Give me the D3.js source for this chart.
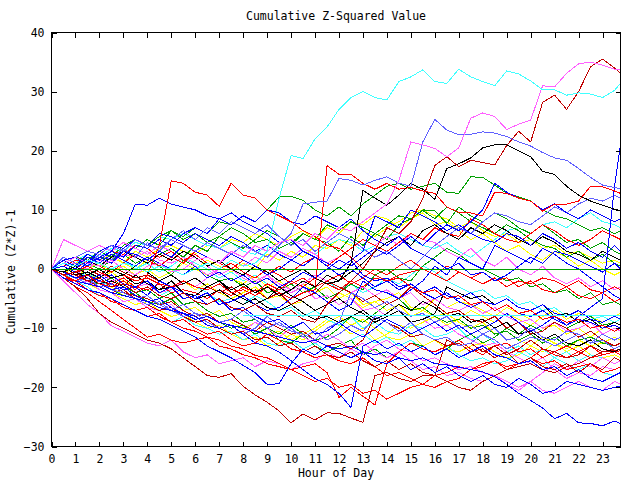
<!DOCTYPE html>
<html><head><meta charset="utf-8">
<script src="https://cdn.jsdelivr.net/npm/d3@7"></script>
<style>
body{margin:0;background:#fff}
svg{display:block}
text{font-family:"DejaVu Sans Mono",monospace;font-size:11.5px;fill:#000}
</style>
</head><body>
<svg id="chart" width="640" height="480"></svg>
<script>
// ---- data ----
const title = "Cumulative Z-Squared Value";
const xTitle = "Hour of Day";
const yTitle = "Cumulative (Z*Z)-1";
const hourTicks = [0,1,2,3,4,5,6,7,8,9,10,11,12,13,14,15,16,17,18,19,20,21,22,23];
const valueTicks = [-30,-20,-10,0,10,20,30,40];
const sampleHours = [0,0.5,1,1.5, 2,2.5,3,3.5, 4,4.5,5,5.5, 6,6.5,7,7.5, 8,8.5,9,9.5, 10,10.5,11,11.5,
  12,12.5,13,13.5, 14,14.5,15,15.5, 16,16.5,17,17.5, 18,18.5,19,19.5, 20,20.5,21,21.5, 22,22.5,23,23.5, 23.75];

const cyanRiser = [0,1,0.5,1.5, 1,0,1,0.5, -0.5,0.5,0,-1, 0,1,0,1.5, 0.5,1,3,12, 19.2,18.7,22,24,
  27,29,30,29, 28.6,31.7,32.5,33.7, 31.7,31.4,33.8,32.5, 31.7,31,33.5,33, 31.8,30.3,30.3,29.4, 29.8,29.6,29,30.2, 31.4];
const magentaRiser = [0,1,2,1, 0.5,1.5,0,-1, 0.5,1,-0.5,0, 1.5,2,1,3, 2,4,3,4.5, 5,4,6,5,
  7,6.5,8,9.5, 11,15,21.5,21, 20.4,19,20.5,25.5, 26.4,25.8,23.6,24.5, 25.2,31,30.8,33.1, 34.7,35,34.5,33.8, 33.7];
const darkRedRiser = [0,-1,-0.5,-2, -1.5,-3,-2.5,-4, -3,-4.5,-5,-4, -5.5,-6,-5,-6.5, -7,-6,-7.5,-8, -7,-8.5,-9,-6,
  -4,-2,0,3, 7,6,8,12, 17.5,19,17.3,18.4, 18,17.6,20.9,23.3, 21.5,28.2,29.4,27, 30,34.2,35.5,34, 33.1];
const lightBlueHigh = [0,1,2,3, 2.5,4,3,5, 4,3.5,5,4, 3,4.5,3.5,2.5, 4,3,2,4, 6,11,11.3,11.5,
  15.3,15,14.2,15, 15.6,14.5,14,21.5, 25.3,23.5,22.7,22.8, 23.2,23,22.4,21.5, 20.8,19.7,18.8,18.4, 17,15.5,14.2,13.8, 13.6];
const blackHigh = [0,-0.5,0.5,-1, 0,-1.5,-1,0.5, -0.5,-2,-1,-2.5, -1.5,-3,-2,-3.5, -2.5,-4,-3,-4.5, -3.5,-2,-3,-1,
  -2,1,13.3,12, 10.8,12.5,14.5,13.5, 11.8,17,17.8,18.8, 20.5,21,21,20, 19,16.5,16,14, 12.5,11.5,10.8,10.1, 9.9];
const redJump11 = [0,-1,-0.5,0.5, -0.5,-1.5,-1,-2, -1.5,-2.5,-3,-2, -3,-3.5,-2.5,-4, -3.5,-4.5,-3,-4, -5,-4,-3.5,17.5,
  16,16,14.5,13.5, 14.5,13.5,13.8,13.2, 12.8,10.5,9.6,9.5, 9,13,12.8,12, 11.5,9.8,11,11, 11.5,14,13.9,13.2, 12.8];
const redJump5 = [0,-1,-2,-1, -2.5,-3,-2,-3.5, -1,4,14.9,14.5, 13,12.5,10.6,14.5, 12.5,12,10,9, 8,6.5,5.5,4,
  3.5,2,0,-1, -2,-1.5,-3,-4, -3.5,-5,-4.5,-6, -5.5,-7,-6,-7.5, -7,-8.5,-8,-9, -8.5,-10,-9.5,-10.5, -10];
const blueEarlyPeak = [0,1,2,0.5, 2,3,6,11, 10.8,12,11,10.5, 10,9,8.5,9.5, 8,7,6,4.5, 5,3,2,1,
  0,1.5,-1,-2, -1.5,-3,-2.5,-4, -3,-4.5,-5,-4, -5.5,-6,-5,-6.5, -7,-6,-7.5,-8, -7,-8.5,-9,-8, -8.5];
const darkRedLow = [0,-1.5,-3,-5, -7.5,-9,-10,-11, -12,-12.5,-13.5,-15, -16.5,-18,-18.3,-17.7, -19.8,-21.3,-22.5,-24, -26,-24.5,-25.5,-24.3,
  -24.4,-25.2,-25.9,-18, -17.5,-18.5,-19,-18, -18,-19,-20,-20.5, -19,-18,-17,-16.5, -16,-17,-17.5,-16.5, -16,-15,-14,-13.8, -13.5];
const blueLowest = [0,-1,-2,-2.5, -3,-4,-4.5,-5, -5.5,-6.5,-7,-7.5, -8.5,-8,-9,-9.5, -10,-10.5,-11,-11.5, -12,-12.5,-12,-13,
  -13.5,-13,-14,-14.5, -14,-15,-15.5,-15, -16,-16.2,-16.6,-17, -17.4,-18.2,-19.5,-21, -22.2,-23.5,-25.3,-24.4, -26,-26.1,-26.5,-25.7, -26.1];
const blueV = [0,-1.5,-2.5,-3.5, -4,-5,-6,-7, -8,-8.5,-9.5,-10.5, -11.5,-13,-14,-15, -16.3,-17.5,-19.5,-19.4, -16,-13.5,-14.5,-13,
  -14,-15,-14,-15.5, -16,-15,-17,-16, -17.5,-16.5,-18,-19, -18,-19.5,-20,-18.5, -19.5,-21,-20.5,-19, -19.5,-20,-20.5,-20, -19.8];
const blueDip13 = [0,-0.5,-1.5,-1, -2.5,-3.5,-3,-4.5, -5.5,-5,-6.5,-7.5, -8,-9.5,-10,-9.5, -11,-12.5,-13,-14, -15.5,-17,-18.5,-19.5,
  -21,-23.4,-13,-12, -13.5,-12.5,-14,-13, -14.5,-13.5,-15,-14, -13,-14.5,-15,-16, -15.5,-17,-16.5,-18, -17,-18.5,-19,-18, -17.5];
const redDip = [0,-1,-2.5,-3.5, -4.5,-5,-6.5,-7, -8,-7.5,-9,-10, -10.5,-11.5,-12,-13, -13.5,-14.6,-15,-16, -17,-16.5,-16,-17.5,
  -21.7,-20,-21.5,-23, -16,-14,-12.5,-13.5, -14,-13,-12,-13.5, -14.5,-13,-12.5,-14, -13.5,-15,-14,-13, -14,-15,-14.5,-14, -14.5];
const magentaLow = [0,-2,-4,-6, -7.5,-9.6,-10.5,-11.5, -12.5,-13,-12,-14, -15,-14.5,-16,-15.5, -15,-16.5,-15.5,-16, -17,-16,-15.5,-14,
  -15,-13.5,-14.5,-13, -12,-13.5,-14,-15.5, -15,-16,-17,-16.5, -17.5,-18,-19,-20, -19,-20.5,-21,-20, -19,-20,-20.5,-19, -19.5];
const redLow = [0,-1.5,-3,-4, -5.5,-7,-8.5,-10, -11.5,-11,-12,-12.5, -12,-11.5,-13,-13.5, -14.5,-15,-16,-16.5, -17,-18,-19,-18.5,
  -20,-19.5,-21,-20.5, -22,-21,-20,-19.5, -18,-17.5,-16.5,-17, -16,-15.5,-16.5,-16, -15,-16,-15.5,-17, -16.5,-16,-17.5,-17, -16.5];
const greenHigh = [0,1,0.5,2, 1.5,3,4.5,3.5, 5,4,6.5,5.5, 7,6,8,7.5, 9,8,10,12.2, 12.3,11.6,10,9,
  10.5,9,11,12.5, 14,14.5,13.5,14, 14.5,13,12.8,15.6, 15.5,14.2,12.8,12.2, 11.5,10,9,8.5, 7.5,6.5,7,6, 6.5];
const greenMid = [0,-0.5,1,0.5, 2,1.5,3,2, 1,2.5,3.5,2, 4,3,5.5,4.5, 3.5,5,6.5,5.5, 4,6,5,4.5,
  3,5.5,4,6, 5,7.5,8.5,9.9, 8.5,10.5,9.5,8, 7,6,7.5,6.5, 5,4,3.5,2, 3,1.5,2.5,1, 0.5];
const greenLow = [0,-1,-0.5,-2, -2.5,-1.5,-3,-4, -3.5,-5,-4,-6, -5.5,-7,-8,-7.5, -9,-8.5,-10,-11, -9.5,-11,-12,-11.5,
  -10,-8,-9,-7.5, -6,-5,-7,-6.5, -8,-9,-8.5,-10, -9.5,-11,-10.5,-12, -11,-12.5,-11.5,-13, -12,-11.5,-12.5,-13, -12.5];
const greenFlat = [0,0.5,-0.5,1, 0,1.5,2.5,1, 2,0.5,-1,1.5, 0.5,-1,-2,-1.5, -3,-2,-4,-3.5, -2.5,-4,-3,-5,
  -4,-2.5,-3.5,-1, 0,-1.5,-2,0.5, 2,3.5,2.5,1, 0,-1,-2,-1.5, -3,-2.5,-4,-3.5, -5,-4,-6,-5.5, -6];
const greenE = [0,1,2,1.5, 3,2,4,5, 4,5.5,6.5,5, 6,4.5,5.5,7, 6,4.5,5,3.5, 4.5,6,5,7.5,
  6.5,8,7,6, 7.5,9,8.5,10, 9.9,7.7,10.5,9, 8,9.5,8.5,7, 6,7.5,6,4.5, 5,3.5,4.5,3, 2.5];
const greenF = [0,-0.5,-1.5,-2.5, -2,-3.5,-4.5,-4, -5.5,-6,-5,-7, -8,-7.5,-9,-10, -9.5,-11,-10,-12, -12.5,-11,-13,-14,
  -13,-12,-14.5,-13.5, -15,-14,-12.5,-13, -14.5,-13.5,-12,-11, -12.5,-11.5,-10,-11, -9.5,-10.5,-9,-10, -9,-8,-9.5,-9, -9.5];
const yellowA = [0,-0.5,-1.5,-1, -2.5,-3,-4.5,-4, -5.5,-6,-5,-7, -6.5,-8,-7,-9, -10,-9,-11,-10.5, -12,-11,-10,-8.5,
  -9.5,-11,-10,-12, -11,-9.5,-10,-9, -8,-9.5,-8.5,-7, -8,-9,-7.5,-8.5, -9.5,-8,-7,-8.5, -7.5,-8,-9,-8, -7.5];
const yellowB = [0,0.5,-0.5,0, 1,-0.5,0.5,-1, 0,-1.5,-0.5,1, 0,-1,-2,-1.5, -2.5,-1,-3,-2, -3.5,-2.5,-4,-3,
  -5,-4,-6,-5.5, -5,-4,-6.5,-7, -8,-7.5,-9,-10, -9,-11,-10.5,-12, -13,-11.5,-12.5,-14, -13,-14.5,-15,-14.5, -15];
const yellowC = [0,1,0.5,1.5, 0.5,2,1,0, 1.5,0.5,2,1, 0,1.5,0.5,-0.5, 1,0,2.5,1.5, 3,2,4,3.5,
  5,4,6.5,5.5, 7,8,9.5,10, 9,8.5,7,8, 6.5,5.5,6,4.5, 5,3.5,4,2.5, 3,2,1,1.5, 1];
const yellowD = [0,-1,-2,-2.5, -3.5,-4,-5,-6, -5.5,-7,-8,-7.5, -9,-10,-9.5,-11, -12,-11.5,-13,-12.5, -11,-12,-10.5,-9,
  -8,-9.5,-8.5,-10, -11.5,-12,-11,-13, -12,-13.5,-14,-13, -12.5,-14,-15,-14.5, -13,-14,-12.5,-13.5, -12,-13,-12.5,-11.5, -12];
const yellowE = [0,0.5,1,2, 1.5,2.5,1,3, 2,3.5,4,3, 2.5,4,3.5,5, 4.5,6,5,4, 5.5,6.5,5,7,
  6,8,7.5,9, 8.5,7,8.5,9.5, 7.5,8,6.5,5, 6,4.5,3,4, 2.5,1.5,3,2, 0.5,1.5,0,-1, -0.5];
const yellowF = [0,-0.5,0,-1, -1.5,-0.5,-2,-3, -2,-3.5,-3,-2, -3.5,-2.5,-4,-5, -4,-3,-5,-4.5, -6,-5.5,-7,-6,
  -4,-5,-6.5,-5.5, -7,-6,-8,-7, -5,-6.5,-5.5,-6, -7,-8,-6.5,-7.5, -8.5,-10,-9.5,-11, -10,-11.5,-10,-9, -9.5];
const cyanB = [0,0.5,1.5,0.5, 1,2.5,1.5,0, 1,-0.5,0.5,2, 1,0,-1.5,-0.5, -2,-1,-2.5,-3.5, -2.5,-4,-3,-2,
  -3.5,-2.5,-4,-3, -1.5,-2.5,-1,0.5, -0.5,-2,-3,-4, -3.5,-5,-4.5,-6, -5.5,-7,-6.5,-8, -7,-8.5,-8,-9, -8.5];
const cyanC = [0,-1,-1.5,-0.5, -2,-3,-2.5,-4, -3,-4.5,-3.5,-2, -3,-4,-5.5,-5, -6,-4.5,-5.5,-7, -6.5,-8,-7,-8.5,
  -9.5,-8,-10,-9, -10.5,-11,-9.5,-10, -11.5,-11,-10,-12, -11,-12.5,-14,-13, -14.5,-13.5,-15,-14, -15.5,-14.5,-15,-16, -15.5];
const cyanD = [0,0.5,1.5,2.5, 2,3.5,3,4.5, 4,5.5,5,6, 5,4,3.5,4.5, 3,2.5,4,3, 2,3.5,2.5,4,
  5,4.5,3,4, 5.5,6,5,4, 3.5,4.5,3,2, 3.5,5,6.5,7, 6,7.5,8,7, 8.5,9.5,8,7.5, 7];
const cyanE = [0,-1.5,-2,-3, -4.5,-5,-6,-7, -6.5,-8,-9,-8, -9.5,-10,-11,-10.5, -12,-11,-12.5,-13, -12,-13.5,-12.5,-14,
  -13,-12,-11,-12.5, -11.5,-13,-12,-13.5, -14,-13,-14.5,-15.5, -15,-16,-15.5,-14, -15,-16.5,-15,-16, -17,-16,-17.5,-18, -17.5];
const blueC = [0,1.5,0.5,2.5, 1.5,3,2,4, 3.5,5,4,6, 7,6,8.5,7.5, 9,8,10,9.5, 8,7.5,9,8,
  7,8.5,6.5,5, 4,5.5,3.5,2.5, 1.5,0,1,-1, -0.5,-2,-1,0.5, 2,1,3,2.5, 1.5,0.5,-0.5,1, 0];
const blueD = [0,-1,-0.5,-2, -1,-2.5,-3.5,-3, -4.5,-2,-3,-4, -5,-4,-6,-5.5, -4.5,-6,-7,-6.5, -5,-3,-4,-5.5,
  -7,-6,-2,-3.5, -4,-5,-3.5,-2, 0.5,-1,2,1, 0,4,3,2, 1,3.5,2.5,1, 0,-1.5,-3,-4.5, -5];
const blueLateSpike = [0,-0.5,0.5,-1, -2,-1,-2.5,-3, -2,-4,-3,-5, -4.5,-6,-5,-7, -6.5,-8,-9,-8.5, -10,-9,-11,-10.5,
  -9,-10.5,-11.5,-10, -8.5,-9.5,-11,-10, -9,-10.5,-9.5,-11, -10,-9,-7.5,-9, -10.5,-9.5,-8,-9.5, -8,-6.5,-5,14, 21];
const blueE = [0,2,1,0.5, 2.5,1.5,3.5,2, 4.5,3,5,6.5, 5,7,6,8, 7,6,7.5,5.5, 4,5,3,4.5,
  6,5,3.5,2, 3,1.5,0,2, 4,5.5,7,6, 8,9.5,9,8, 7.5,9,10.5,9.5, 11,12,11.5,12.5, 12];
const blueF = [0,-0.5,-1.5,-2.5, -2,-3.5,-4,-5, -6,-5.5,-7,-8, -7.5,-9,-10,-9.5, -11,-10,-8,-9.5, -10,-11.5,-10.5,-12,
  -11,-9.5,-10.5,-8, -9,-10.5,-9,-11, -12,-11.5,-13,-12.5, -11,-12,-13.5,-12.5, -11.5,-12,-13,-12, -11,-12.5,-12,-13.5, -13];
const blueG = [0,1,0,2, 1,2.5,1.5,0.5, 2,1,0,-1, 0.5,-1.5,-0.5,-2, -1,-2.5,-1.5,-3, -2,-0.5,-1.5,0,
  1.5,0.5,2,3.5, 2.5,4,5.5,4, 6,7.5,6.5,8, 10,14.5,13,12, 11.5,10,11,9.5, 8.5,10,9,8, 8.5];
const blueH = [0,0.5,-0.5,1, 2,1,3,2.5, 1.5,3,2,4, 3,2,1,2.5, 1.5,0.5,-1,0, 1.5,0.5,2,1,
  0,1.5,3,9, 8,7,10,9, 8,6.5,7.5,6, 5,4.5,6,5.5, 4,6,5,3.5, 4.5,3,2,4, 3];
const blueI = [0,-1,-2,-1.5, -3,-2.5,-4,-5, -4.5,-6,-7,-6, -7.5,-8,-9,-8.5, -7,-8.5,-10,-9, -10.5,-11,-12,-10,
  -9,-4,-5,-6.5, -5.5,-7,-8,-7.5, -9,-8,-10,-9.5, -11,-10,-12,-11.5, -10,-11.5,-12,-10.5, -11,-12.5,-11,-12, -11.5];
const blueJ = [0,1.5,2,1, 3,4,3.5,5, 4,6,5.5,4.5, 6,5,4,5.5, 4.5,3,4,2.5, 1.5,3,2,0.5,
  -1,0,-1.5,-3, -2,-3.5,-2.5,-4, -5,-4,-5.5,-6.5, -5.5,-7,-6,-7.5, -8,-7,-8.5,-9.5, -8.5,-9,-10,-9.5, -10];
const blackB = [0,0.5,-1,-0.5, -1.5,0,-1,-2.5, -2,-3.5,-3,-4, -5,-4.5,-3.5,-5, -6,-5,-6.5,-7, -6,-7.5,-8.5,-8,
  -9,-8,-7,-8.5, -7.5,-6,-7,-5.5, -6.5,-8,-7.5,-9, -8.5,-10,-9,-11, -10.5,-12,-11,-12.5, -13,-12,-13.5,-14, -13.5];
const blackC = [0,-0.5,0.5,1.5, 0.5,2,3,2, 1,2.5,1.5,3, 2,0.5,1.5,0, -1,0.5,-0.5,-2, -1,0,-1.5,-2.5,
  -2,-0.5,1,3, 4.5,5.5,4,6.5, 7.5,6,5,7, 6,7.5,6.5,5, 4,5.5,4.5,3, 2.5,1.5,3,2, 1.5];
const blackD = [0,-1,-0.5,-1.5, -2.5,-2,-3,-1, -2.5,-3.5,-2,-4, -4.5,-3,-2,-4, -5,-6,-5,-3, -4.5,-5.5,-7,-6,
  -5,-6.5,-7.5,-9, -8,-7,-9,-8.5, -7.5,-3,-4,-5, -4.5,-6,-5,-6.5, -7,-6,-8,-7.5, -9,-8.5,-10,-9, -9.5];
const redD = [0,-0.5,-1.5,-1, -2,-2.5,-1.5,-3, -3.5,-2.5,-4,-3.5, -4,-5,-3.5,-4.5, -3,-4,-2.5,-3.5, -2,-3,-1.5,-2.5,
  -3.5,-2,-3,-1.5, -2,-1,-0.5,0, -1,0.5,-0.5,-1.5, -0.5,-2,-1.5,-3, -2,-3.5,-4,-3, -4.5,-5,-4,-5.5, -5];
const redE = [0,-1.5,-2,-3.5, -4,-5.5,-6,-7, -6.5,-8,-9,-8.5, -10,-11,-10.5,-12, -13,-12.5,-11,-12, -13.5,-14,-15,-14.5,
  -15.5,-16,-15,-16.5, -18,-17.5,-18.5,-19.5, -20,-19,-18.5,-17, -16.5,-15.5,-17,-16, -15,-13.5,-14.5,-15, -14,-13,-14.5,-14, -13.8];
const redF = [0,0.5,1.5,1, 2,3,2.5,4, 3.5,2,3,1.5, 2.5,1,0,1, -0.5,-1.5,0,-1, -2.5,-1.5,-3,-2,
  -1,-2.5,-1.5,0, -1,0.5,1.5,0, -1,-2,-0.5,-1.5, -2.5,-1.5,-3,-2, -2.5,-1.5,-2,-3, -2,-3.5,-4,-3, -3.5];
const redG = [0,1,0,1.5, 0.5,-0.5,1,2.5, 1.5,0.5,2,1, 3,2,1,0, 1.5,0.5,-1,0.5, -0.5,1,2,0.5,
  2,3.5,5,4, 3,4.5,6,5, 7,6,5.5,8.5, 7.5,6,5,4.5, 6,7.5,6.5,5, 4,5,6.5,5.5, 5];
const darkRedB = [0,-0.5,-1,-2, -3,-2.5,-4,-4.5, -5,-6,-5.5,-7, -8,-7.5,-9,-8.5, -9.5,-10.5,-9,-10, -11,-10.5,-12,-13,
  -12.5,-13.5,-12,-8, -9,-10,-11.5,-11, -12,-13,-12.5,-14, -13.5,-15,-14,-16, -15,-16.5,-17,-16, -17.5,-16,-17,-15, -15.5];
const darkRedC = [0,0.5,-0.5,0, -1,0.5,-0.5,-1.5, -1,-2,-3,-2.5, -1.5,-3,-4,-3, -4.5,-3.5,-5,-4, -6,-5,-4,-2,
  -3,-4,-5.5,-4.5, -6,-5,-3,-4.5, -6,-7.5,-7,-8.5, -9,-8,-10,-9, -11,-10.5,-9,-10, -11.5,-10.5,-12,-13, -12.5];
const darkRedD = [0,-1,-2,-1.5, -3,-4,-3.5,-5, -6,-7,-6.5,-8, -9,-8.5,-10,-11, -10.5,-12,-11.5,-13, -12.5,-14,-13,-14.5,
  -15,-14,-15.5,-16.5, -15.5,-17,-16,-17.5, -18,-12,-13,-12.5, -14,-13,-14.5,-13.5, -12,-13.5,-14,-15, -14.5,-13,-14,-13.5, -13];
const magentaC = [0,5,4,3, 4,3,4.5,3.5, 2.5,4,3,1.5, 2,0.5,-1,0, -1.5,-2.5,-1,-3, -4,-3,-5,-4.5,
  -6,-5,-7,-6.5, -8,-7,-9,-8.5, -10,-9.5,-11,-12, -13,-12.5,-14,-15, -16,-15,-17,-18.5, -17.5,-18,-16.5,-17, -16.5];
const magentaD = [0,-0.5,-1,0.5, -0.5,-2,-1.5,-3, -2.5,-4,-3.5,-2, -3,-1.5,0,1.5, 0.5,2,1,3, 2,3.5,2.5,1,
  2,3.5,5,4, 5.5,4,6,5, 4.5,3,2,3.5, 1.5,0.5,2,0, -1,0.5,-1.5,-2.5, -1.5,-3,-2,-3.5, -3];
const magentaE = [0,-1,-2.5,-2, -3.5,-4,-5.5,-5, -6.5,-7,-6,-8, -9,-8.5,-10,-11, -10.5,-9,-10,-11.5, -10,-11.5,-12.5,-11,
  -12,-13.5,-12.5,-14, -15,-14,-15.5,-17, -16.5,-18,-17.5,-18.5, -19,-18,-19.5,-20.5, -19,-17.5,-16,-17, -15.5,-16.5,-15,-16, -15.5];
const magentaF = [0,0.5,1,0, 1.5,1,2.5,2, 3,1.5,1,2, 0.5,-1,0,1, -0.5,-2,-1,-2.5, -3.5,-2.5,-1,-2,
  -3,-4,-3,-4.5, -3.5,-5,-4,-6, -5,-6.5,-7,-6, -7.5,-6.5,-8,-9, -8.5,-10,-9,-10.5, -10,-9,-11,-10, -10.5];

// flat reference traces: level and first hour
const flatLevels = [0, -7.85];
const flatStarts = [0, 8];
const flatColors = ["#00a000", "#40ffff"];

const RED="#ff0000", DRED="#c00000", BLUE="#0000ff", LBLUE="#6060ff", CYAN="#40ffff",
      MAG="#ff60ff", GREEN="#00a000", YEL="#ffff00", BLACK="#000000";

const series = [
  [yellowA,YEL],[yellowB,YEL],[yellowC,YEL],[yellowD,YEL],[yellowE,YEL],[yellowF,YEL],
  [cyanB,CYAN],[cyanC,CYAN],[cyanD,CYAN],[cyanE,CYAN],
  [greenMid,GREEN],[greenLow,GREEN],[greenFlat,GREEN],[greenHigh,GREEN],[greenE,GREEN],[greenF,GREEN],
  [magentaC,MAG],[magentaD,MAG],[magentaE,MAG],[magentaF,MAG],[magentaLow,MAG],
  [redD,RED],[redE,RED],[redF,RED],[redG,RED],[redLow,RED],[redDip,RED],
  [darkRedB,DRED],[darkRedC,DRED],[darkRedD,DRED],[darkRedLow,DRED],
  [blackB,BLACK],[blackC,BLACK],[blackD,BLACK],
  [blueC,BLUE],[blueD,BLUE],[blueE,LBLUE],[blueF,LBLUE],[blueG,BLUE],[blueH,BLUE],[blueI,LBLUE],[blueJ,BLUE],
  [blueV,BLUE],[blueDip13,BLUE],[blueLowest,BLUE],[blueEarlyPeak,BLUE],
  [blueLateSpike,BLUE],
  [redJump5,RED],[redJump11,RED],[blackHigh,BLACK],[lightBlueHigh,LBLUE],
  [darkRedRiser,DRED],[magentaRiser,MAG],[cyanRiser,CYAN]
];

// ---- drawing ----
const svg = d3.select("#chart");
const L=51.5, R=620.5, T=32.5, B=446.5;
const x = d3.scaleLinear().domain([0,23.75]).range([L,R]);
const y = d3.scaleLinear().domain([-30,40]).range([B,T]);

const line = d3.line().x(d=>x(d[0])).y(d=>y(d[1]));
const g = svg.append("g");
series.forEach(([vals,col])=>{
  g.append("path").datum(d3.zip(sampleHours, vals))
    .attr("d", line).attr("fill","none").attr("stroke",col).attr("stroke-width",1)
    .attr("shape-rendering","crispEdges");
});
flatLevels.forEach((v,i)=>{
  g.append("path").datum([[flatStarts[i],v],[23.75,v]])
    .attr("d", line).attr("fill","none").attr("stroke",flatColors[i]).attr("stroke-width",1)
    .attr("shape-rendering","crispEdges");
});

function styleAxis(sel){
  sel.select(".domain").remove();
  sel.selectAll("line").attr("stroke","#000").attr("shape-rendering","crispEdges");
  sel.selectAll("text").attr("font-family","DejaVu Sans Mono, monospace").attr("font-size","11.5px").attr("fill","#000");
}
svg.append("g").attr("transform",`translate(0,${B})`)
  .call(d3.axisBottom(x).tickValues(hourTicks).tickSize(-5).tickPadding(8).tickFormat(d3.format("d")))
  .call(styleAxis);
svg.append("g").attr("transform",`translate(0,${T})`)
  .call(d3.axisTop(x).tickValues(hourTicks).tickSize(-5).tickFormat(""))
  .call(styleAxis);
svg.append("g").attr("transform",`translate(${L},0)`)
  .call(d3.axisLeft(y).tickValues(valueTicks).tickSize(-5).tickPadding(7).tickFormat(d3.format("d")))
  .call(styleAxis);
svg.append("g").attr("transform",`translate(${R},0)`)
  .call(d3.axisRight(y).tickValues(valueTicks).tickSize(-5).tickFormat(""))
  .call(styleAxis);

svg.append("rect").attr("x",L).attr("y",T).attr("width",R-L).attr("height",B-T)
  .attr("fill","none").attr("stroke","#000").attr("shape-rendering","crispEdges");

svg.append("text").attr("x",336).attr("y",20).attr("text-anchor","middle").text(title);
svg.append("text").attr("x",336).attr("y",477).attr("text-anchor","middle").text(xTitle);
svg.append("text").attr("transform","translate(15,272) rotate(-90)").attr("text-anchor","middle").text(yTitle);
</script>
</body></html>
